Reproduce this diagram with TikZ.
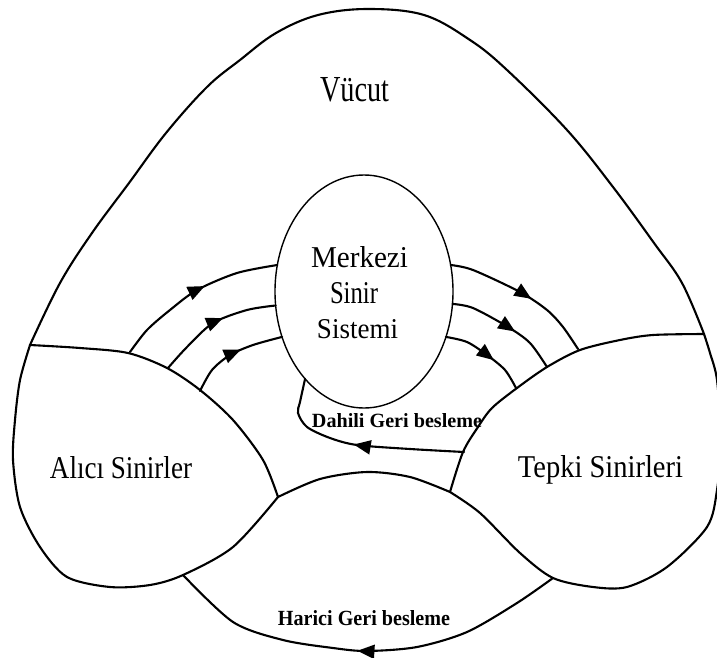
\documentclass[tikz,border=0pt]{standalone}
\usepackage{graphicx}
\usepackage{fontspec}
\setmainfont{Liberation Serif}
\usetikzlibrary{shapes.geometric, arrows.meta, decorations.markings}
% scale a label to a given ink width and height (in pt)
\newcommand{\fitlabel}[3]{\resizebox{#1pt}{#2pt}{#3}}

\begin{document}
\begin{tikzpicture}[x=1pt, y=-1pt,
  edge/.style={line width=2.1pt, line join=round, line cap=round},
  flow/.style={line width=2.1pt, line cap=round, postaction={decorate},
    decoration={markings, mark=at position #1 with {\arrow{Triangle[length=17pt,width=14pt]}}}},
  flow/.default=0.5,
  lbl/.style={anchor=base, inner sep=0pt, outer sep=0pt},
  organ/.style={ellipse, draw, line width=1.4pt, inner sep=0pt, outer sep=0pt,
    minimum width=178pt, minimum height=233pt}]

\useasboundingbox (0,0) rectangle (717,658);
\clip (0,0) rectangle (717,658);

% junction points of the regions
\coordinate (archL) at (30,345);
\coordinate (archR) at (704,334);
\coordinate (lobeLtip) at (278,497);
\coordinate (lobeRtip) at (450,492);
\coordinate (lobeLlow) at (183,575);
\coordinate (lobeRlow) at (553,578);

% body outline
\draw[edge] plot[smooth, tension=0.6] coordinates {(archL) (60,283) (92,233) (129,183) (166,133)
  (207,87) (240,60) (276,33) (318,15) (368,9) (424,15) (470,40) (507,70) (567,130) (613,187)
  (654,243) (682,283) (archR)};

% receptor lobe (left)
\draw[edge] plot[smooth] coordinates {(archL) (80,348) (128,353) (167,368) (200,390) (233,420)
  (263,460) (lobeLtip)};
\draw[edge] plot[smooth] coordinates {(lobeLtip) (233,547) (lobeLlow) (150,585) (110,587) (67,577)
  (40,547) (20,507) (13,460) (15,420) (20,380) (archL)};

% hump between the lobes
\draw[edge] plot[smooth] coordinates {(lobeLtip) (320,479) (367,472) (410,477) (lobeRtip)};

% response lobe (right)
\draw[edge] plot[smooth] coordinates {(archR) (653,335) (620,340) (580,350) (547,367) (517,388)
  (492,408) (478,427) (463,452) (lobeRtip)};
\draw[edge] plot[smooth] coordinates {(lobeRtip) (480,513) (520,553) (lobeRlow) (593,587) (627,587)
  (667,567) (707,527) (717,490) (721,440) (717,380) (710,353) (archR)};

% central nervous system
\node[organ] (mss) at (364,291.5) {};
\node[lbl] (t1) at (359.5,267) {\fitlabel{97}{21}{Merkezi}};
\node[lbl] (t2) at (354,303) {\fitlabel{48}{21}{Sinir}};
\node[lbl] (t3) at (357.5,338) {\fitlabel{81}{19}{Sistemi}};

% afferent paths
\coordinate (a1) at (130,352);
\coordinate (a2) at (168,368);
\coordinate (a3) at (200,391);
\draw[flow=0.57] plot[smooth] coordinates {(a1) (147,330) (170,310) (197,290) (237,273) (mss.163)};
\draw[flow=0.58] plot[smooth] coordinates {(a2) (187,347) (213,323) (247,310) (mss.189)};
\draw[flow=0.58] plot[smooth] coordinates {(a3) (212,370) (230,355) (253,345) (mss.209)};

% efferent paths
\coordinate (b1) at (578,349);
\coordinate (b2) at (547,367);
\coordinate (b3) at (516,388);
\draw[flow=0.56] plot[smooth] coordinates {(mss.17) (473,270) (520,292) (547,310) (563,327) (b1)};
\draw[flow=0.59] plot[smooth] coordinates {(mss.-8) (473,308) (508,327) (530,343) (b2)};
\draw[flow=0.6] plot[smooth] coordinates {(mss.-29) (467,342) (487,355) (505,370) (b3)};

% internal feedback loop
\coordinate (d0) at (464,452);
\draw[flow=0.52] plot[smooth] coordinates {(d0) (410,449) (357,445) (330,438) (307,427) (298,413)
  (300,402) (mss.236)};

% external feedback loop
\draw[flow=0.52] plot[smooth] coordinates {(lobeRlow) (517,603) (467,632) (417,647) (367,651)
  (333,648) (283,640) (233,622) (lobeLlow)};

% labels
\node[lbl] (vucut) at (354.5,102) {\fitlabel{69}{24}{Vücut}};
\node[lbl] (alici) at (121,478) {\fitlabel{142}{22}{Alıcı Sinirler}};
\node[lbl] (tepki) at (600.5,477) {\fitlabel{165}{22}{Tepki Sinirleri}};
\node[lbl] (dahili) at (397,427) {\fitlabel{170}{14}{\bfseries Dahili Geri besleme}};
\node[lbl] (harici) at (364,625) {\fitlabel{172}{15}{\bfseries Harici Geri besleme}};
\end{tikzpicture}
\end{document}
